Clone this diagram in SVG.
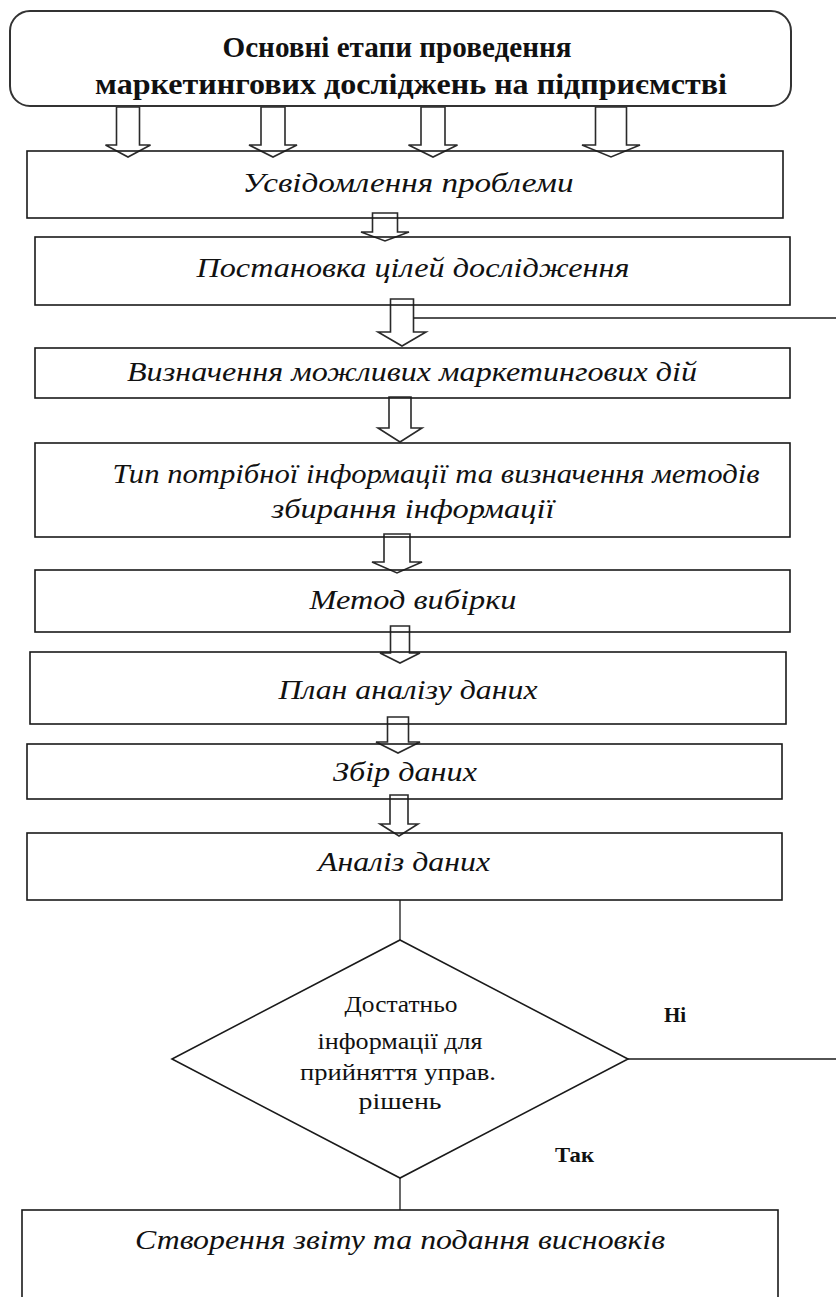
<svg xmlns="http://www.w3.org/2000/svg" width="836" height="1297" viewBox="0 0 836 1297">
<style>
.bg{fill:#ffffff}
.box{fill:none;stroke:#1a1a1a;stroke-width:1.6}
.title{fill:none;stroke:#333333;stroke-width:2}
.arr{fill:none;stroke:#2a2a2a;stroke-width:1.6;stroke-linejoin:miter}
.ln{fill:none;stroke:#1a1a1a;stroke-width:1.3}
.it{font-family:"Liberation Serif",serif;font-style:italic;font-size:28px;fill:#111111;text-anchor:middle}
.tt{font-family:"Liberation Serif",serif;font-weight:bold;font-size:29px;fill:#111111;text-anchor:middle}
.dt{font-family:"Liberation Serif",serif;font-size:24px;fill:#111111;text-anchor:middle}
.lb{font-family:"Liberation Serif",serif;font-weight:bold;font-size:21px;fill:#111111}
</style>
<rect class="bg" x="0" y="0" width="836" height="1297"/>

<g id="connectors">
<path class="arr" d="M116.5,107 L139.5,107 L139.5,145 L150.5,145 L128,157 L105.5,145 L116.5,145 Z"/>
<path class="arr" d="M261,107 L285,107 L285,145 L297,145 L273,157 L249,145 L261,145 Z"/>
<path class="arr" d="M421,107 L445,107 L445,145 L457.5,145 L433,157 L408.5,145 L421,145 Z"/>
<path class="arr" d="M595.5,107 L626.5,107 L626.5,145 L640,145 L611,157 L582,145 L595.5,145 Z"/>
<path class="arr" d="M372.5,213 L397.5,213 L397.5,232 L409,232 L385,241 L361,232 L372.5,232 Z"/>
<path class="arr" d="M390.5,299 L413.5,299 L413.5,332 L426,332 L402,346 L378,332 L390.5,332 Z"/>
<path class="arr" d="M389,397 L411,397 L411,428 L422,428 L400,442 L378,428 L389,428 Z"/>
<path class="arr" d="M384,534 L410,534 L410,562 L422,562 L397,573 L372,562 L384,562 Z"/>
<path class="arr" d="M390.5,626 L409.5,626 L409.5,653 L420,653 L400,663 L380,653 L390.5,653 Z"/>
<path class="arr" d="M387.5,717 L408.5,717 L408.5,742 L420,742 L398,753 L376,742 L387.5,742 Z"/>
<path class="arr" d="M390,795 L408,795 L408,824 L418,824 L399,836 L380,824 L390,824 Z"/>
<line class="ln" x1="413.5" y1="318" x2="836" y2="318"/>
<line class="ln" x1="400" y1="900" x2="400" y2="940"/>
<line class="ln" x1="628" y1="1059" x2="836" y2="1059"/>
<line class="ln" x1="400" y1="1178" x2="400" y2="1210"/>
<text class="lb" x="664" y="1022">Ні</text>
<text class="lb" x="555" y="1162" textLength="39" lengthAdjust="spacingAndGlyphs">Так</text>
</g>

<g id="title">
<rect class="title" x="10" y="11" width="781" height="95" rx="20" ry="20"/>
<text class="tt" x="397" y="57" textLength="349" lengthAdjust="spacingAndGlyphs">Основні етапи проведення</text>
<text class="tt" x="411" y="94" textLength="632" lengthAdjust="spacingAndGlyphs">маркетингових досліджень на підприємстві</text>
</g>

<g id="n1">
<rect class="box" x="27" y="151" width="756" height="67"/>
<text class="it" x="408" y="192" textLength="331" lengthAdjust="spacingAndGlyphs">Усвідомлення проблеми</text>
</g>
<g id="n2">
<rect class="box" x="35" y="237" width="755" height="68"/>
<text class="it" x="413" y="277" textLength="433" lengthAdjust="spacingAndGlyphs">Постановка цілей дослідження</text>
</g>
<g id="n3">
<rect class="box" x="35" y="348" width="755" height="50"/>
<text class="it" x="412" y="381" textLength="570" lengthAdjust="spacingAndGlyphs">Визначення можливих маркетингових дій</text>
</g>
<g id="n4">
<rect class="box" x="35" y="443" width="755" height="94"/>
<text class="it" x="436" y="483" textLength="647" lengthAdjust="spacingAndGlyphs">Тип потрібної інформації та визначення методів</text>
<text class="it" x="413" y="518" textLength="283" lengthAdjust="spacingAndGlyphs">збирання інформації</text>
</g>
<g id="n5">
<rect class="box" x="35" y="570" width="755" height="62"/>
<text class="it" x="413" y="609" textLength="207" lengthAdjust="spacingAndGlyphs">Метод вибірки</text>
</g>
<g id="n6">
<rect class="box" x="30" y="652" width="756" height="72"/>
<text class="it" x="408" y="699" textLength="259" lengthAdjust="spacingAndGlyphs">План аналізу даних</text>
</g>
<g id="n7">
<rect class="box" x="27" y="744" width="755" height="55"/>
<text class="it" x="405" y="781" textLength="144" lengthAdjust="spacingAndGlyphs">Збір даних</text>
</g>
<g id="n8">
<rect class="box" x="27" y="833" width="755" height="67"/>
<text class="it" x="404" y="871" textLength="172" lengthAdjust="spacingAndGlyphs">Аналіз даних</text>
</g>
<g id="decision">
<polygon class="box" points="400,940 628,1059 400,1178 172,1059"/>
<text class="dt" x="401" y="1012" textLength="113" lengthAdjust="spacingAndGlyphs">Достатньо</text>
<text class="dt" x="400" y="1049" textLength="165" lengthAdjust="spacingAndGlyphs">інформації для</text>
<text class="dt" x="398" y="1080" textLength="196" lengthAdjust="spacingAndGlyphs">прийняття управ.</text>
<text class="dt" x="400" y="1109" textLength="83" lengthAdjust="spacingAndGlyphs">рішень</text>
</g>
<g id="n9">
<rect class="box" x="22" y="1210" width="756" height="100"/>
<text class="it" x="400" y="1249" textLength="530" lengthAdjust="spacingAndGlyphs">Створення звіту та подання висновків</text>
</g>
</svg>
